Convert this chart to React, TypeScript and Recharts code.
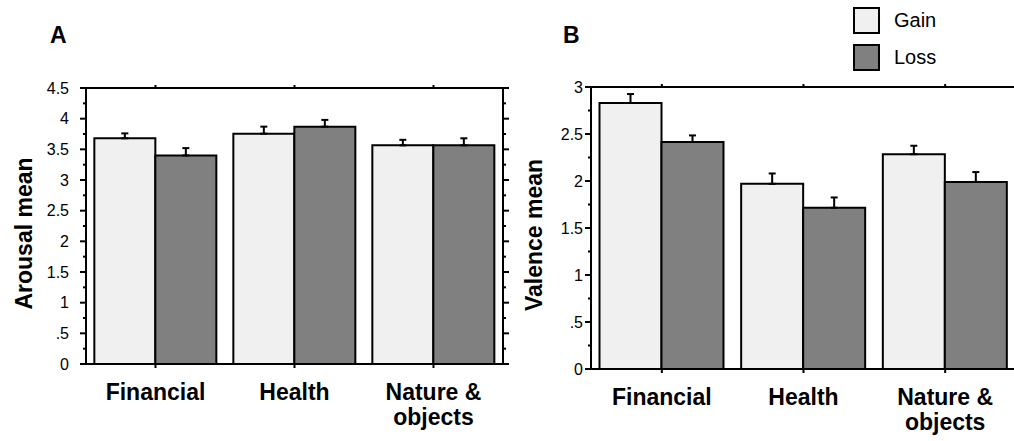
import { BarChart, Bar, XAxis, YAxis, ErrorBar, Legend } from "recharts"

const categories = ["Financial", "Health", "Nature &\nobjects"]

const arousalGain = [3.68, 3.755, 3.565]
const arousalLoss = [3.4, 3.87, 3.565]
const arousalGainErr = [0.08, 0.115, 0.09]
const arousalLossErr = [0.12, 0.11, 0.115]

const valenceGain = [2.83, 1.97, 2.285]
const valenceLoss = [2.415, 1.715, 1.99]
const valenceGainErr = [0.095, 0.11, 0.09]
const valenceLossErr = [0.07, 0.11, 0.105]

const arousalTicks = [0, 0.25, 0.5, 0.75, 1, 1.25, 1.5, 1.75, 2, 2.25, 2.5, 2.75, 3, 3.25, 3.5, 3.75, 4, 4.25, 4.5]
const valenceTicks = [0, 0.25, 0.5, 0.75, 1, 1.25, 1.5, 1.75, 2, 2.25, 2.5, 2.75, 3]

const GAIN_FILL = "#f0f0f0"
const LOSS_FILL = "#808080"
const FONT = "'Liberation Sans', Arial, Helvetica, sans-serif"

const buildRows = (gain: number[], loss: number[], gErr: number[], lErr: number[]) =>
  categories.map((cat, i) => ({
    cat,
    gain: gain[i],
    loss: loss[i],
    gainErr: [0, gErr[i]],
    lossErr: [0, lErr[i]],
  }))

const arousalData = buildRows(arousalGain, arousalLoss, arousalGainErr, arousalLossErr)
const valenceData = buildRows(valenceGain, valenceLoss, valenceGainErr, valenceLossErr)

const fmtTick = (v: number) => (v > 0 && v < 1 ? String(v).replace(/^0/, "") : String(v))

function YTick(props: any) {
  const { x, y, payload, side, labelGap } = props
  const v = payload.value
  const major = Math.abs(v * 2 - Math.round(v * 2)) < 1e-6
  const dir = side === "left" ? -1 : 1
  const len = major ? 6 : 3
  return (
    <g>
      <line x1={x} x2={x + dir * len} y1={y} y2={y} stroke="#000" strokeWidth={2} />
      {side === "left" && major && (
        <text x={x - labelGap} y={y} dy="0.36em" textAnchor="end" fontSize={16} fontFamily={FONT} fill="#000">
          {fmtTick(v)}
        </text>
      )}
    </g>
  )
}

function CatTick(props: any) {
  const { x, y, payload } = props
  const lines = String(payload.value).split("\n")
  return (
    <text textAnchor="middle" fontSize={23} fontWeight="bold" fontFamily={FONT} fill="#000">
      {lines.map((l, i) => (
        <tspan key={i} x={x} y={y + 32 + i * 25}>
          {l}
        </tspan>
      ))}
    </text>
  )
}

function LegendBoxes(props: any) {
  const { payload } = props
  return (
    <div style={{ fontFamily: FONT }}>
      {(payload || []).map((p: any) => (
        <div key={p.value} style={{ display: "flex", alignItems: "center", height: 37 }}>
          <svg width={27} height={27}>
            <rect x={1} y={1} width={25} height={25} fill={p.payload?.fill ?? p.color} stroke="#000" strokeWidth={2} />
          </svg>
          <span style={{ marginLeft: 14, fontSize: 20, color: "#000" }}>{p.value}</span>
        </div>
      ))}
    </div>
  )
}

const axisStyle = { stroke: "#000", strokeWidth: 2 }

function Panel({ data, ticks, max, margin, labelGap, rightAxis, legend }: any) {
  return (
    <BarChart width={520} height={441} data={data} margin={margin} barCategoryGap="6%" barGap={0}>
      <XAxis
        xAxisId="top"
        orientation="top"
        dataKey="cat"
        height={2}
        tickSize={3}
        tickLine={axisStyle}
        axisLine={axisStyle}
        tick={() => <g />}
        interval={0}
      />
      <XAxis
        xAxisId="bottom"
        dataKey="cat"
        height={60}
        tickSize={4}
        tickMargin={0}
        tickLine={axisStyle}
        axisLine={axisStyle}
        tick={<CatTick />}
        interval={0}
      />
      <YAxis
        type="number"
        domain={[0, max]}
        ticks={ticks}
        allowDataOverflow
        width={40}
        tickSize={0}
        tickMargin={0}
        tickLine={false}
        axisLine={axisStyle}
        interval={0}
        tick={(p: any) => <YTick {...p} side="left" labelGap={labelGap} />}
      />
      {rightAxis && (
        <YAxis
          yAxisId="r"
          orientation="right"
          type="number"
          domain={[0, max]}
          ticks={ticks}
          allowDataOverflow
          width={10}
          tickSize={0}
          tickMargin={0}
          tickLine={false}
          axisLine={axisStyle}
          interval={0}
          tick={(p: any) => <YTick {...p} side="right" labelGap={0} />}
        />
      )}
      {legend && (
        <Legend
          layout="vertical"
          align="center"
          verticalAlign="middle"
          wrapperStyle={{ left: 333, top: 1.5, width: 120 }}
          content={<LegendBoxes />}
        />
      )}
      <Bar xAxisId="bottom" dataKey="gain" name="Gain" fill={GAIN_FILL} stroke="#000" strokeWidth={2} isAnimationActive={false}>
        <ErrorBar dataKey="gainErr" direction="y" width={3.5} stroke="#000" strokeWidth={2} />
      </Bar>
      <Bar xAxisId="bottom" dataKey="loss" name="Loss" fill={LOSS_FILL} stroke="#000" strokeWidth={2} isAnimationActive={false}>
        <ErrorBar dataKey="lossErr" direction="y" width={3.5} stroke="#000" strokeWidth={2} />
      </Bar>
    </BarChart>
  )
}

export default function App() {
  return (
    <div
      style={{
        position: "absolute",
        left: 0,
        top: 0,
        width: 1014,
        height: 441,
        overflow: "hidden",
        background: "#fff",
        fontFamily: FONT,
      }}
    >
      <div style={{ position: "absolute", left: 0, top: 0 }}>
        <Panel
          data={arousalData}
          ticks={arousalTicks}
          max={4.5}
          margin={{ top: 86, left: 46, right: 7, bottom: 17 }}
          labelGap={17}
          rightAxis
        />
      </div>
      <div style={{ position: "absolute", left: 520, top: 0 }}>
        <Panel
          data={valenceData}
          ticks={valenceTicks}
          max={3}
          margin={{ top: 85, left: 31, right: 24, bottom: 12 }}
          labelGap={8}
          legend
        />
      </div>
      <svg
        width={1014}
        height={441}
        style={{ position: "absolute", left: 0, top: 0, pointerEvents: "none" }}
        fontFamily={FONT}
      >
        <text x={50} y={43} fontSize={23} fontWeight="bold" fill="#000">A</text>
        <text x={563} y={43} fontSize={23} fontWeight="bold" fill="#000">B</text>
        <text transform="translate(31.5,233.5) rotate(-90)" textAnchor="middle" fontSize={23} fontWeight="bold" fill="#000">
          Arousal mean
        </text>
        <text transform="translate(541.5,235) rotate(-90)" textAnchor="middle" fontSize={23} fontWeight="bold" fill="#000">
          Valence mean
        </text>
      </svg>
    </div>
  )
}
